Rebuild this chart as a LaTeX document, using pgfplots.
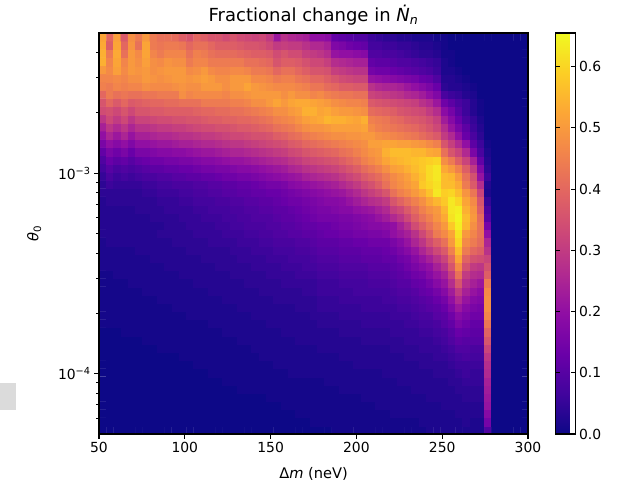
\documentclass[border=0pt]{standalone}
\usepackage{fontspec}
\setmainfont{DejaVu Sans}
\usepackage{pgfplots}
\usepackage{pgfplotstable}
\pgfplotsset{compat=1.18}
\pgfplotsset{
  colormap={plasma}{rgb255=(13,8,135) rgb255=(65,4,157) rgb255=(106,0,168) rgb255=(143,13,164) rgb255=(177,42,144) rgb255=(204,71,120) rgb255=(225,100,98) rgb255=(242,132,75) rgb255=(252,166,54) rgb255=(252,206,37) rgb255=(240,249,33)},
  /pgf/number format/assume math mode=true
}
\pgfplotstableread[header=false]{
52 40 51 37 48 44 50 44 42 42  41 38 36 40 38 36 36 34 36 34  33 32 33 30 22 28 26 25 24 20  20 19 12 11 10 9 9 6 5 4  4 3 3 2 2 2 1 1 0 0  0 0 0 0 0 0 0 0 0
53 38 52 40 49 42 52 44 43 44  44 43 40 42 42 40 38 38 38 37  36 36 35 33 30 31 30 30 28 26  26 24 17 16 14 13 12 7 7 6  6 5 5 4 3 3 2 1 0 0  0 0 0 0 0 0 0 0 0
54 44 53 42 50 47 52 46 44 46  46 46 42 45 44 42 41 41 41 40  39 38 38 37 34 36 34 34 31 30  29 27 21 20 20 19 18 9 9 8  8 7 6 5 4 4 3 1 1 0  0 0 0 0 0 0 0 0 0
54 46 52 46 50 48 51 48 47 49  48 48 44 46 46 44 44 44 44 44  42 42 41 40 36 38 38 37 35 33  33 31 27 26 25 24 24 12 11 11  10 9 9 8 7 6 5 2 1 0  0 0 0 0 0 0 0 0 0
50 47 51 47 50 49 50 48 49 50  50 50 47 48 50 47 46 46 47 47  46 44 44 43 40 42 42 40 38 36  36 35 31 30 29 28 28 15 14 14  13 12 11 10 9 8 6 2 2 1  0 0 0 0 0 0 0 0 0
46 46 47 46 48 48 50 49 48 49  50 50 49 50 51 50 48 48 50 50  50 47 47 46 44 45 45 43 42 40  40 38 36 34 33 32 32 21 20 19  18 17 16 15 13 12 9 3 3 2  1 0 0 0 0 0 0 0 0
45 44 46 45 46 46 48 47 47 47  48 49 48 48 50 50 50 48 50 50  52 50 49 48 47 47 47 46 45 43  43 41 40 38 38 37 37 28 26 25  25 24 22 20 18 16 13 4 3 3  2 1 0 0 0 0 0 0 0
40 44 42 43 42 42 43 43 44 44  44 48 46 47 47 47 47 46 48 48  49 50 50 50 50 48 50 48 48 46  47 45 44 43 43 42 42 32 31 30  29 28 26 25 23 20 17 8 6 5  3 2 0 0 0 0 0 0 0
36 40 37 40 37 38 39 40 40 41  41 42 42 42 44 44 44 44 45 45  46 48 48 50 52 50 52 53 53 52  51 50 48 47 46 46 45 37 36 35  34 33 32 31 28 26 22 14 11 8  6 3 1 0 0 0 0 0 0
34 35 33 36 33 36 36 37 37 38  38 38 38 39 40 40 41 41 42 42  43 44 45 46 48 48 50 51 54 54  52 53 51 50 50 49 48 41 40 39  38 36 35 34 33 30 27 19 15 10  6 3 1 0 0 0 0 0 0
29 33 30 33 29 32 32 33 34 34  35 35 36 36 37 38 38 39 39 40  40 41 42 43 45 46 47 49 51 52  53 55 54 54 53 52 54 45 44 43  41 40 38 37 36 34 31 23 18 13  8 5 2 0 0 0 0 0 0
24 29 26 29 25 28 28 29 30 30  31 31 32 33 34 34 35 35 36 37  37 38 39 40 42 43 44 46 48 49  49 50 51 51 51 51 52 47 45 44  43 42 41 40 38 36 33 27 21 16  11 6 3 0 0 0 0 0 0
20 25 22 25 21 24 24 25 26 26  27 28 28 29 30 30 31 32 33 33  34 35 35 36 38 39 41 42 44 45  46 47 48 48 49 49 50 50 48 47  46 45 44 43 41 39 37 30 26 20  13 8 4 0 0 0 0 0 0
16 20 18 20 17 20 20 21 22 22  23 24 24 25 26 26 27 28 29 29  30 31 32 33 34 35 37 38 40 41  42 43 44 45 46 47 48 51 51 52  52 51 51 50 49 47 45 36 31 26  20 11 6 1 0 0 0 0 0
12 16 14 16 13 16 16 17 18 18  19 19 20 21 22 22 23 24 25 25  26 27 28 29 30 31 33 34 36 37  38 39 40 42 43 45 47 49 50 54  56 56 56 55 55 53 52 42 36 32  26 16 8 2 0 0 0 0 0
9 13 11 12 10 12 13 14 14 15  15 16 16 17 18 18 19 20 21 21  22 23 24 25 26 27 29 30 32 33  34 35 36 38 40 42 45 47 49 52  54 55 56 57 58 59 60 48 44 38  32 24 12 3 0 0 0 0 0
7 10 8 9 8 9 10 11 11 12  12 13 13 14 15 15 16 16 17 18  18 19 20 21 22 23 25 26 28 29  30 31 32 34 36 38 41 43 45 48  51 52 54 56 58 61 63 53 50 45  38 30 17 4 0 0 0 0 0
5 8 6 7 6 7 8 8 9 9  10 10 11 11 12 12 13 14 14 15  15 16 17 18 19 20 21 22 24 25  26 27 28 30 32 34 37 39 41 44  47 49 51 54 57 61 63 56 55 50  42 35 21 6 0 0 0 0 0
4 6 5 5 5 5 6 6 7 7  8 8 8 9 9 10 10 11 11 12  12 13 14 15 15 16 18 19 20 21  22 23 24 26 28 30 33 35 38 42  46 48 50 52 58 60 62 56 56 53  44 37 27 3 0 0 0 0 0
4 4 4 4 4 4 5 5 6 6  6 7 7 8 8 9 9 10 10 11  11 12 12 13 13 14 15 16 17 18  19 20 21 22 24 26 29 31 33 36  42 45 47 50 53 57 63 59 60 56  49 43 32 2 0 0 0 0 0
3 4 4 4 4 4 4 4 5 5  5 6 6 7 7 7 8 8 9 9  10 10 11 11 12 13 14 14 15 16  17 18 18 19 21 23 25 27 28 30  36 39 42 45 48 52 55 58 63 60  52 47 36 5 0 0 0 0 0
3 3 3 3 3 4 4 4 4 5  5 5 5 6 6 7 7 7 8 8  9 9 10 10 11 11 12 13 14 15  16 16 17 18 18 20 21 22 24 26  31 33 37 41 45 48 50 55 63 64  54 49 38 8 0 0 0 0 0
3 3 3 3 3 3 3 4 4 4  4 5 5 5 6 6 6 7 7 8  8 9 9 9 10 11 11 12 13 14  15 15 15 16 16 17 18 19 21 23  26 29 33 38 42 45 49 53 62 65  56 50 41 10 0 0 0 0 0
3 3 3 3 3 3 3 3 3 4  4 4 5 5 5 5 6 6 7 7  8 8 8 9 9 10 10 11 12 12  13 13 14 15 15 16 17 18 18 19  20 24 28 34 38 42 46 50 58 64  55 48 42 15 0 0 0 0 0
3 3 3 3 3 3 3 3 4 4  4 4 4 5 5 5 5 6 6 6  7 7 8 8 9 9 10 10 11 11  12 13 13 14 14 15 15 16 16 17  20 22 24 28 33 38 44 47 52 62  50 46 42 20 0 0 0 0 0
2 3 3 3 3 3 3 3 3 3  4 4 4 4 4 5 5 5 5 6  6 6 7 7 8 8 8 9 9 10  11 11 11 12 12 13 13 14 14 14  16 18 21 25 29 34 38 42 50 60  47 44 41 25 0 0 0 0 0
2 2 2 2 2 3 3 3 3 3  3 3 4 4 4 4 4 4 5 5  5 6 6 6 7 7 7 8 8 9  10 10 10 11 11 11 12 12 12 13  14 16 18 21 25 29 33 37 45 56  44 40 38 28 0 0 0 0 0
2 2 2 2 2 2 2 3 3 3  3 3 3 3 4 4 4 4 4 5  5 5 5 6 6 6 7 7 7 8  9 9 9 10 10 10 11 11 11 12  12 14 15 18 21 24 28 32 40 52  39 35 34 32 0 0 0 0 0
2 2 2 2 2 2 2 2 2 3  3 3 3 3 3 3 4 4 4 4  4 5 5 5 5 6 6 6 7 7  8 8 8 9 9 9 9 10 10 10  11 12 14 16 18 20 24 28 36 47  35 30 29 35 0 0 0 0 0
1 1 2 2 2 2 2 2 2 2  2 3 3 3 3 3 3 3 4 4  4 4 4 5 5 5 5 6 6 6  7 7 7 8 8 8 8 9 9 9  10 11 12 14 15 18 21 24 31 42  30 27 26 38 0 0 0 0 0
1 1 1 1 2 2 2 2 2 2  2 2 2 3 3 3 3 3 3 3  4 4 4 4 4 5 5 5 5 5  6 6 6 7 7 7 7 8 8 8  9 10 10 12 13 15 18 21 27 36  27 24 22 44 0 0 0 0 0
1 1 1 1 1 1 2 2 2 2  2 2 2 2 2 3 3 3 3 3  3 3 4 4 4 4 4 4 5 5  6 6 6 6 6 7 7 7 7 7  8 9 9 10 12 13 15 18 23 30  24 21 19 47 0 0 0 0 0
1 1 1 1 1 1 1 1 2 2  2 2 2 2 2 2 2 3 3 3  3 3 3 3 4 4 4 4 4 4  5 5 5 6 6 6 6 6 6 7  7 8 8 9 10 11 13 15 20 26  21 18 17 48 0 0 0 0 0
1 1 1 1 1 1 1 1 1 1  2 2 2 2 2 2 2 2 2 3  3 3 3 3 3 3 3 4 4 4  5 5 5 5 5 5 6 6 6 6  6 7 7 8 9 10 11 13 17 22  18 16 15 48 0 0 0 0 0
1 1 1 1 1 1 1 1 1 1  1 1 2 2 2 2 2 2 2 2  2 3 3 3 3 3 3 3 3 4  4 4 4 5 5 5 5 5 5 5  6 6 6 7 8 8 10 11 14 18  16 14 14 46 0 0 0 0 0
1 1 1 1 1 1 1 1 1 1  1 1 1 1 1 2 2 2 2 2  2 2 2 3 3 3 3 3 3 3  4 4 4 4 4 4 5 5 5 5  5 5 6 6 7 7 8 10 12 16  14 12 12 43 0 0 0 0 0
0 0 0 1 1 1 1 1 1 1  1 1 1 1 1 1 1 2 2 2  2 2 2 2 2 3 3 3 3 3  3 3 3 4 4 4 4 4 4 4  5 5 5 5 6 6 7 8 10 13  12 11 11 39 0 0 0 0 0
0 0 0 0 0 0 1 1 1 1  1 1 1 1 1 1 1 1 1 2  2 2 2 2 2 2 2 3 3 3  3 3 3 3 3 3 4 4 4 4  4 4 5 5 5 5 6 7 9 11  10 10 10 36 0 0 0 0 0
0 0 0 0 0 0 0 0 1 1  1 1 1 1 1 1 1 1 1 1  1 2 2 2 2 2 2 2 2 2  3 3 3 3 3 3 3 3 3 3  4 4 4 4 5 5 5 6 7 9  9 8 8 32 0 0 0 0 0
0 0 0 0 0 0 0 0 0 0  0 1 1 1 1 1 1 1 1 1  1 1 2 2 2 2 2 2 2 2  2 2 2 3 3 3 3 3 3 3  3 3 4 4 4 4 5 5 6 7  8 7 7 29 0 0 0 0 0
0 0 0 0 0 0 0 0 0 0  0 0 0 1 1 1 1 1 1 1  1 1 1 1 2 2 2 2 2 2  2 2 2 2 2 3 3 3 3 3  3 3 3 3 4 4 4 4 5 6  6 6 6 27 0 0 0 0 0
0 0 0 0 0 0 0 0 0 0  0 0 0 0 0 1 1 1 1 1  1 1 1 1 1 1 2 2 2 2  2 2 2 2 2 2 2 2 2 3  3 3 3 3 3 3 4 4 4 5  6 5 5 26 0 0 0 0 0
0 0 0 0 0 0 0 0 0 0  0 0 0 0 0 0 0 1 1 1  1 1 1 1 1 1 1 1 1 1  1 2 2 2 2 2 2 2 2 2  2 3 3 3 3 3 3 3 4 4  5 5 5 24 0 0 0 0 0
0 0 0 0 0 0 0 0 0 0  0 0 0 0 0 0 0 0 0 1  1 1 1 1 1 1 1 1 1 1  1 1 1 2 2 2 2 2 2 2  2 2 2 3 3 3 3 3 3 4  4 4 4 23 0 0 0 0 0
0 0 0 0 0 0 0 0 0 0  0 0 0 0 0 0 0 0 0 0  0 0 0 1 1 1 1 1 1 1  1 1 1 1 1 1 2 2 2 2  2 2 2 2 2 3 3 3 3 3  4 4 4 22 0 0 0 0 0
0 0 0 0 0 0 0 0 0 0  0 0 0 0 0 0 0 0 0 0  0 0 0 0 0 1 1 1 1 1  1 1 1 1 1 1 1 1 2 2  2 2 2 2 2 2 2 3 3 3  3 3 3 21 0 0 0 0 0
0 0 0 0 0 0 0 0 0 0  0 0 0 0 0 0 0 0 0 0  0 0 0 0 0 0 0 1 1 1  1 1 1 1 1 1 1 1 1 1  2 2 2 2 2 2 2 2 2 3  3 3 3 18 0 0 0 0 0
0 0 0 0 0 0 0 0 0 0  0 0 0 0 0 0 0 0 0 0  0 0 0 0 0 0 0 0 0 1  1 1 1 1 1 1 1 1 1 1  1 1 1 1 2 2 2 2 2 2  3 2 2 15 0 0 0 0 0
0 0 0 0 0 0 0 0 0 0  0 0 0 0 0 0 0 0 0 0  0 0 0 0 0 0 0 0 0 0  0 0 1 1 1 1 1 1 1 1  1 1 1 1 1 2 2 2 2 2  2 2 2 9 0 0 0 0 0
}\griddata
% one coordinate list, bottom row first, with meta = table value / 100
\gdef\cl{}
\foreach \r in {48,47,...,0}{%
  \begingroup\pgfkeys{/pgf/fpu=true,/pgf/fpu/output format=sci}%
  \pgfmathparse{pow(10,-4.30103+(48-\r+0.5)*2/49)}\xdef\yy{\pgfmathresult}\endgroup
  \gdef\rowl{}%
  \foreach \c in {0,...,58}{%
    \pgfmathparse{50+(\c+0.5)*250/59}\let\xx\pgfmathresult
    \pgfplotstablegetelem{\r}{[index]\c}\of\griddata
    \xdef\rowl{\rowl (\xx,\yy) [\pgfplotsretval e-2]}%
  }%
  \xdef\cl{\cl\rowl}%
}
\begin{document}
\begin{tikzpicture}
\path[use as bounding box] (0,0) rectangle (624pt,483pt);
\fill[black!14] (0,73pt) rectangle (16pt,100pt);
\begin{axis}[
  at={(99pt,49pt)}, anchor=south west,
  scale only axis, width=429pt, height=401pt,
  xmin=50, xmax=300, ymin=5e-5, ymax=5e-3, ymode=log,
  colormap name=plasma, point meta min=0, point meta max=0.655,
  axis on top,
  axis line style={line width=1.1pt},
  tick align=outside, tick pos=left,
  major tick length=4.9pt, minor tick length=2.8pt,
  every tick/.style={black,line width=1.1pt},
  minor tick style={black,line width=0.8pt},
  tick label style={font=\fontsize{13.9}{16}\selectfont},
  xtick={50,100,150,200,250,300},
  ytick={1e-4,1e-3},
  yticklabels={10\textsuperscript{−4},10\textsuperscript{−3}},
  minor ytick={6e-5,7e-5,8e-5,9e-5,2e-4,3e-4,4e-4,5e-4,6e-4,7e-4,8e-4,9e-4,2e-3,3e-3,4e-3},
  xlabel={Δ\textit{m} (neV)},
  ylabel={\textit{θ}\textsubscript{0}},
  label style={font=\fontsize{14.6}{16}\selectfont},
  xlabel style={yshift=-8pt},
  ylabel style={yshift=10pt},
  title={Fractional change in \textit{Ṅ}\textsubscript{\textit{n}}},
  title style={font=\fontsize{18}{20}\selectfont,yshift=-2pt},
  colorbar,
  colorbar style={
    at={(parent axis.north east)}, anchor=north west, xshift=19pt,
    width=20pt,
    ytick={0,0.1,0.2,0.3,0.4,0.5,0.6},
    yticklabel style={font=\fontsize{13.9}{16}\selectfont,/pgf/number format/.cd,fixed,fixed zerofill,precision=1},
    major tick length=4.9pt,
    every tick/.style={black,line width=1.1pt},
    axis line style={line width=1.1pt},
  },
]
\edef\tmp{\noexpand\addplot[matrix plot*, mesh/cols=59, point meta=explicit] coordinates {\cl};}\tmp
\end{axis}
\end{tikzpicture}
\end{document}
